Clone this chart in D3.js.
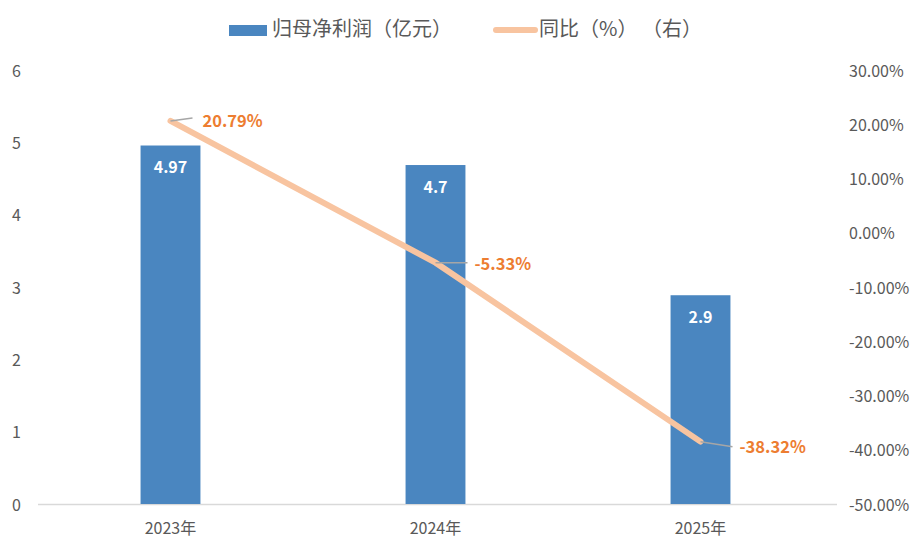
<!DOCTYPE html>
<html>
<head>
<meta charset="utf-8">
<script src="https://cdn.jsdelivr.net/npm/d3@7"></script>
<style>
  body { margin: 0; background: #fff; }
  svg text { font-family: "Noto Sans CJK SC", "Noto Sans", sans-serif; }
</style>
</head>
<body>
<svg id="chart" width="924" height="554"></svg>
<script>
const years = ["2023年", "2024年", "2025年"];
const profit = [4.97, 4.7, 2.9];
const growth = [20.79, -5.33, -38.32];
const leftTicks = [0, 1, 2, 3, 4, 5, 6];
const rightTicks = [30, 20, 10, 0, -10, -20, -30, -40, -50];
const legendNames = ["归母净利润（亿元）", "同比（%） （右）"];

const BAR_COLOR = "#4A86C0";
const LINE_COLOR = "#F8C4A0";
const LABEL_COLOR = "#ED7D31";
const AXIS_TEXT = "#595959";

const svg = d3.select("#chart");
const plotLeft = 38, plotRight = 833, plotTop = 71, plotBottom = 505;

const x = d3.scaleBand().domain(years).range([plotLeft, plotRight]).paddingInner(0.774).paddingOuter(0.387);
const yL = d3.scaleLinear().domain([0, 6]).range([plotBottom, plotTop]);
const yR = d3.scaleLinear().domain([-50, 30]).range([plotBottom, plotTop]);

// axis tick labels
svg.append("g").selectAll("text").data(leftTicks).enter().append("text")
    .attr("x", 21).attr("y", d => yL(d)).attr("dy", "0.35em")
    .attr("text-anchor", "end").attr("font-size", 16).attr("fill", AXIS_TEXT)
    .text(d => d);

svg.append("g").selectAll("text").data(rightTicks).enter().append("text")
    .attr("x", 849).attr("y", d => yR(d)).attr("dy", "0.35em")
    .attr("font-size", 16).attr("fill", AXIS_TEXT)
    .text(d => d.toFixed(2) + "%");

// baseline
svg.append("line").attr("x1", plotLeft).attr("x2", 837)
    .attr("y1", yL(0) - 0.5).attr("y2", yL(0) - 0.5)
    .attr("stroke", "#D9D9D9").attr("stroke-width", 1.5);

svg.append("g").selectAll("text").data(years).enter().append("text")
    .attr("x", d => x(d) + x.bandwidth() / 2).attr("y", 528).attr("dy", "0.35em")
    .attr("text-anchor", "middle").attr("font-size", 16).attr("fill", AXIS_TEXT)
    .text(d => d);

// bars
svg.append("g").selectAll("rect").data(profit).enter().append("rect")
    .attr("x", (d, i) => x(years[i]))
    .attr("y", d => yL(d))
    .attr("width", x.bandwidth())
    .attr("height", d => yL(0) - 1 - yL(d))
    .attr("fill", BAR_COLOR);

svg.append("g").selectAll("text").data(profit).enter().append("text")
    .attr("x", (d, i) => x(years[i]) + x.bandwidth() / 2)
    .attr("y", d => yL(d) + 22).attr("dy", "0.35em")
    .attr("text-anchor", "middle").attr("font-size", 16).attr("font-weight", "bold")
    .attr("fill", "#fff")
    .text(d => d);

// growth line
const cx = i => x(years[i]) + x.bandwidth() / 2;
const line = d3.line().x((d, i) => cx(i)).y(d => yR(d));
svg.append("path").datum(growth)
    .attr("d", line).attr("fill", "none")
    .attr("stroke", LINE_COLOR).attr("stroke-width", 6).attr("stroke-linecap", "round");

// leader lines and labels
const labelOffsets = [[22, -3, 32, 0], [32, 0, 39, 2], [32, 5, 39, 6]];
growth.forEach((v, i) => {
    const px = cx(i), py = yR(v);
    const [lx, ly, tx, ty] = labelOffsets[i];
    svg.append("line")
        .attr("x1", px).attr("y1", py).attr("x2", px + lx).attr("y2", py + ly)
        .attr("stroke", "#A6A6A6").attr("stroke-width", 1.5);
    svg.append("text")
        .attr("x", px + tx).attr("y", py + ty).attr("dy", "0.35em")
        .attr("font-size", 16.5).attr("font-weight", "bold").attr("fill", LABEL_COLOR)
        .text(v.toFixed(2) + "%");
});

// legend
const legend = svg.append("g");
legend.append("rect").attr("x", 229).attr("y", 25).attr("width", 38).attr("height", 11).attr("fill", BAR_COLOR);
legend.append("text").attr("x", 272).attr("y", 29).attr("dy", "0.35em")
    .attr("font-size", 20).attr("fill", AXIS_TEXT).text(legendNames[0]);
legend.append("line").attr("x1", 496).attr("x2", 535).attr("y1", 30).attr("y2", 30)
    .attr("stroke", LINE_COLOR).attr("stroke-width", 6).attr("stroke-linecap", "round");
legend.append("text").attr("x", 539).attr("y", 29).attr("dy", "0.35em")
    .attr("font-size", 20).attr("fill", AXIS_TEXT).text(legendNames[1]);
</script>
</body>
</html>
